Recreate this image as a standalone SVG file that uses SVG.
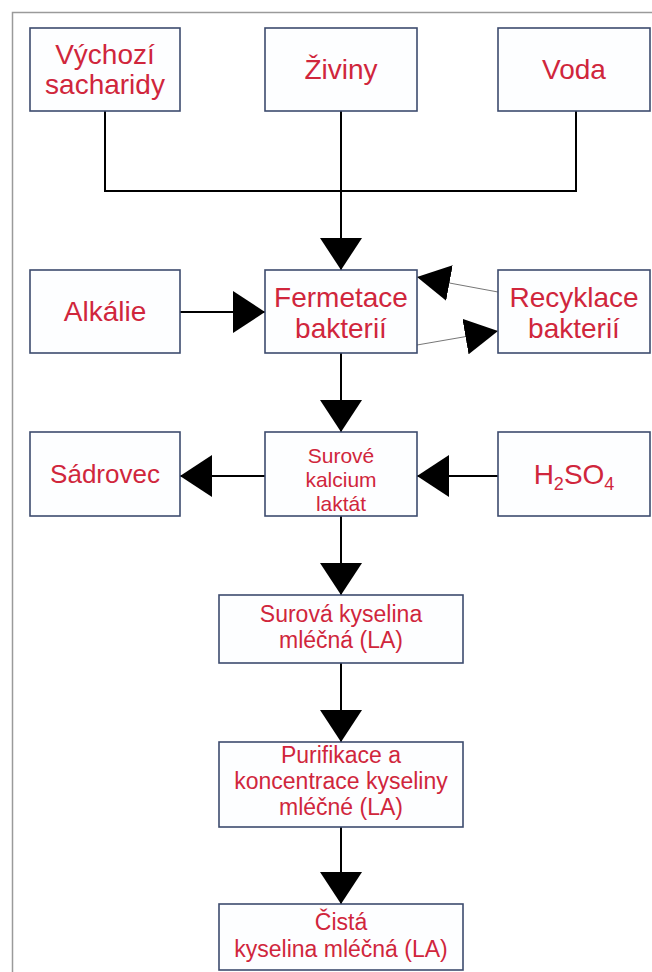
<svg xmlns="http://www.w3.org/2000/svg" width="652" height="972" viewBox="0 0 652 972">
<style>
.box{fill:#fdfeff;stroke:#3d4b6e;stroke-width:1.6}
.t{font-family:"Liberation Sans",Arial,sans-serif;fill:#d0263c;text-anchor:middle}
.big{font-size:28px}
.mid{font-size:21px}
.low{font-size:23px}
.c{fill:none;stroke:#000;stroke-width:2}
.g{fill:none;stroke:#777;stroke-width:1}
</style>
<defs>
<marker id="ah" markerUnits="userSpaceOnUse" markerWidth="32" markerHeight="42" refX="32" refY="21" orient="auto" viewBox="0 0 32 42">
<path d="M0,0 L32,21 L0,42 Z" fill="#000"/>
</marker>
<marker id="ahd" markerUnits="userSpaceOnUse" markerWidth="33" markerHeight="36" refX="33" refY="18" orient="auto" viewBox="0 0 33 36">
<path d="M0,0 L33,18 L0,36 Z" fill="#000"/>
</marker>
</defs>
<rect width="652" height="972" fill="#fff"/>
<rect x="12.5" y="12.5" width="700" height="1000" fill="none" stroke="#9a9a9a" stroke-width="1.5"/>
<g id="connectors">
<path class="c" d="M105,111 V191 H576 V111"/>
<path class="c" d="M341,111 V270" marker-end="url(#ah)"/>
<path class="c" d="M180,312 H265" marker-end="url(#ah)"/>
<path class="g" d="M498,292 L417,277" marker-end="url(#ahd)"/>
<path class="g" d="M417,345 L498,331" marker-end="url(#ahd)"/>
<path class="c" d="M341,353 V432" marker-end="url(#ah)"/>
<path class="c" d="M265,476 H180" marker-end="url(#ah)"/>
<path class="c" d="M498,476 H417" marker-end="url(#ah)"/>
<path class="c" d="M341,516 V595" marker-end="url(#ah)"/>
<path class="c" d="M341,663 V742" marker-end="url(#ah)"/>
<path class="c" d="M341,827 V904" marker-end="url(#ah)"/>
</g>
<g id="vychozi"><rect class="box" x="30" y="28" width="150" height="83"/><text class="t big" x="105" y="64">Výchozí</text><text class="t big" x="105" y="94">sacharidy</text></g>
<g id="ziviny"><rect class="box" x="265" y="28" width="152" height="83"/><text class="t big" x="341" y="79">Živiny</text></g>
<g id="voda"><rect class="box" x="498" y="28" width="152" height="83"/><text class="t big" x="574" y="79">Voda</text></g>
<g id="alkalie"><rect class="box" x="30" y="270" width="150" height="83"/><text class="t big" x="105" y="321">Alkálie</text></g>
<g id="fermetace"><rect class="box" x="265" y="270" width="152" height="83"/><text class="t big" x="341" y="307">Fermetace</text><text class="t big" x="341" y="338">bakterií</text></g>
<g id="recyklace"><rect class="box" x="498" y="270" width="152" height="83"/><text class="t big" x="574" y="307">Recyklace</text><text class="t big" x="574" y="338">bakterií</text></g>
<g id="sadrovec"><rect class="box" x="30" y="432" width="150" height="84"/><text class="t" style="font-size:26px" x="105" y="483">Sádrovec</text></g>
<g id="kalcium"><rect class="box" x="265" y="432" width="152" height="84"/><text class="t mid" x="341" y="463">Surové</text><text class="t mid" x="341" y="487">kalcium</text><text class="t mid" x="341" y="511">laktát</text></g>
<g id="h2so4"><rect class="box" x="498" y="432" width="152" height="84"/><text class="t big" x="574" y="484">H<tspan style="font-size:18px" dy="6">2</tspan><tspan dy="-6">SO</tspan><tspan style="font-size:18px" dy="6">4</tspan></text></g>
<g id="surova"><rect class="box" x="219" y="595" width="244" height="68"/><text class="t low" x="341" y="622">Surová kyselina</text><text class="t low" x="341" y="648">mléčná (LA)</text></g>
<g id="purifikace"><rect class="box" x="219" y="742" width="244" height="85"/><text class="t low" x="341" y="763">Purifikace a</text><text class="t low" x="341" y="789">koncentrace kyseliny</text><text class="t low" x="341" y="815">mléčné (LA)</text></g>
<g id="cista"><rect class="box" x="219" y="904" width="244" height="66"/><text class="t low" x="341" y="930">Čistá</text><text class="t low" x="341" y="957">kyselina mléčná (LA)</text></g>
</svg>
